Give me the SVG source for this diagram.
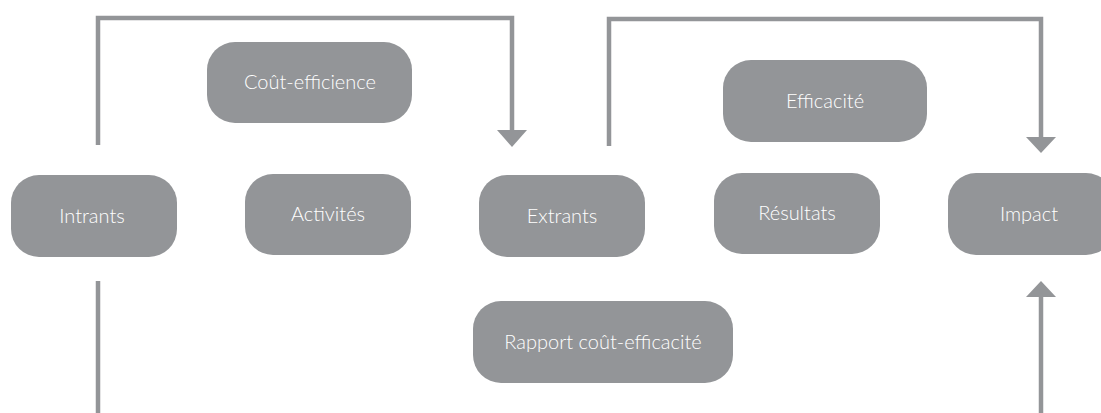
<svg xmlns="http://www.w3.org/2000/svg" width="1101" height="413" viewBox="0 0 1101 413">
<style>
.box{fill:#939598}
.lbl{font-family:Lato,"Noto Sans",sans-serif;font-size:20px;font-weight:300;fill:#ffffff;text-anchor:middle}
.con{fill:none;stroke:#939598;stroke-width:4.5;stroke-linejoin:miter;stroke-linecap:butt}
.head{fill:#939598}
</style>
<rect width="1101" height="413" fill="#ffffff"/>
<g id="connectors">
<path class="con" d="M98,145 V18 H512 V131"/>
<polygon class="head" points="497,130 527,130 512,147"/>
<path class="con" d="M609,146 V19 H1041 V138"/>
<polygon class="head" points="1026,137 1056,137 1041,153"/>
<path class="con" d="M98,281 V413"/>
<path class="con" d="M1041,413 V296"/>
<polygon class="head" points="1026,297 1056,297 1041,281"/>
</g>
<g id="node-intrants"><rect class="box" x="11" y="175" width="166" height="82" rx="28"/><text class="lbl" x="92" y="223">Intrants</text></g>
<g id="node-activites"><rect class="box" x="245" y="174" width="166" height="81" rx="28"/><text class="lbl" x="328" y="221">Activités</text></g>
<g id="node-extrants"><rect class="box" x="479" y="175" width="166" height="82" rx="28"/><text class="lbl" x="562" y="223">Extrants</text></g>
<g id="node-resultats"><rect class="box" x="714" y="173" width="166" height="81" rx="28"/><text class="lbl" x="797" y="220">Résultats</text></g>
<g id="node-impact"><rect class="box" x="948" y="173" width="166" height="82" rx="28"/><text class="lbl" x="1029" y="221">Impact</text></g>
<g id="node-cout-efficience"><rect class="box" x="207" y="42" width="205" height="81" rx="28"/><text class="lbl" x="310" y="89">Coût-efficience</text></g>
<g id="node-efficacite"><rect class="box" x="723" y="60" width="204" height="82" rx="28"/><text class="lbl" x="825" y="108">Efficacité</text></g>
<g id="node-rapport"><rect class="box" x="473" y="301" width="260" height="82" rx="28"/><text class="lbl" x="603" y="349">Rapport coût-efficacité</text></g>
</svg>
